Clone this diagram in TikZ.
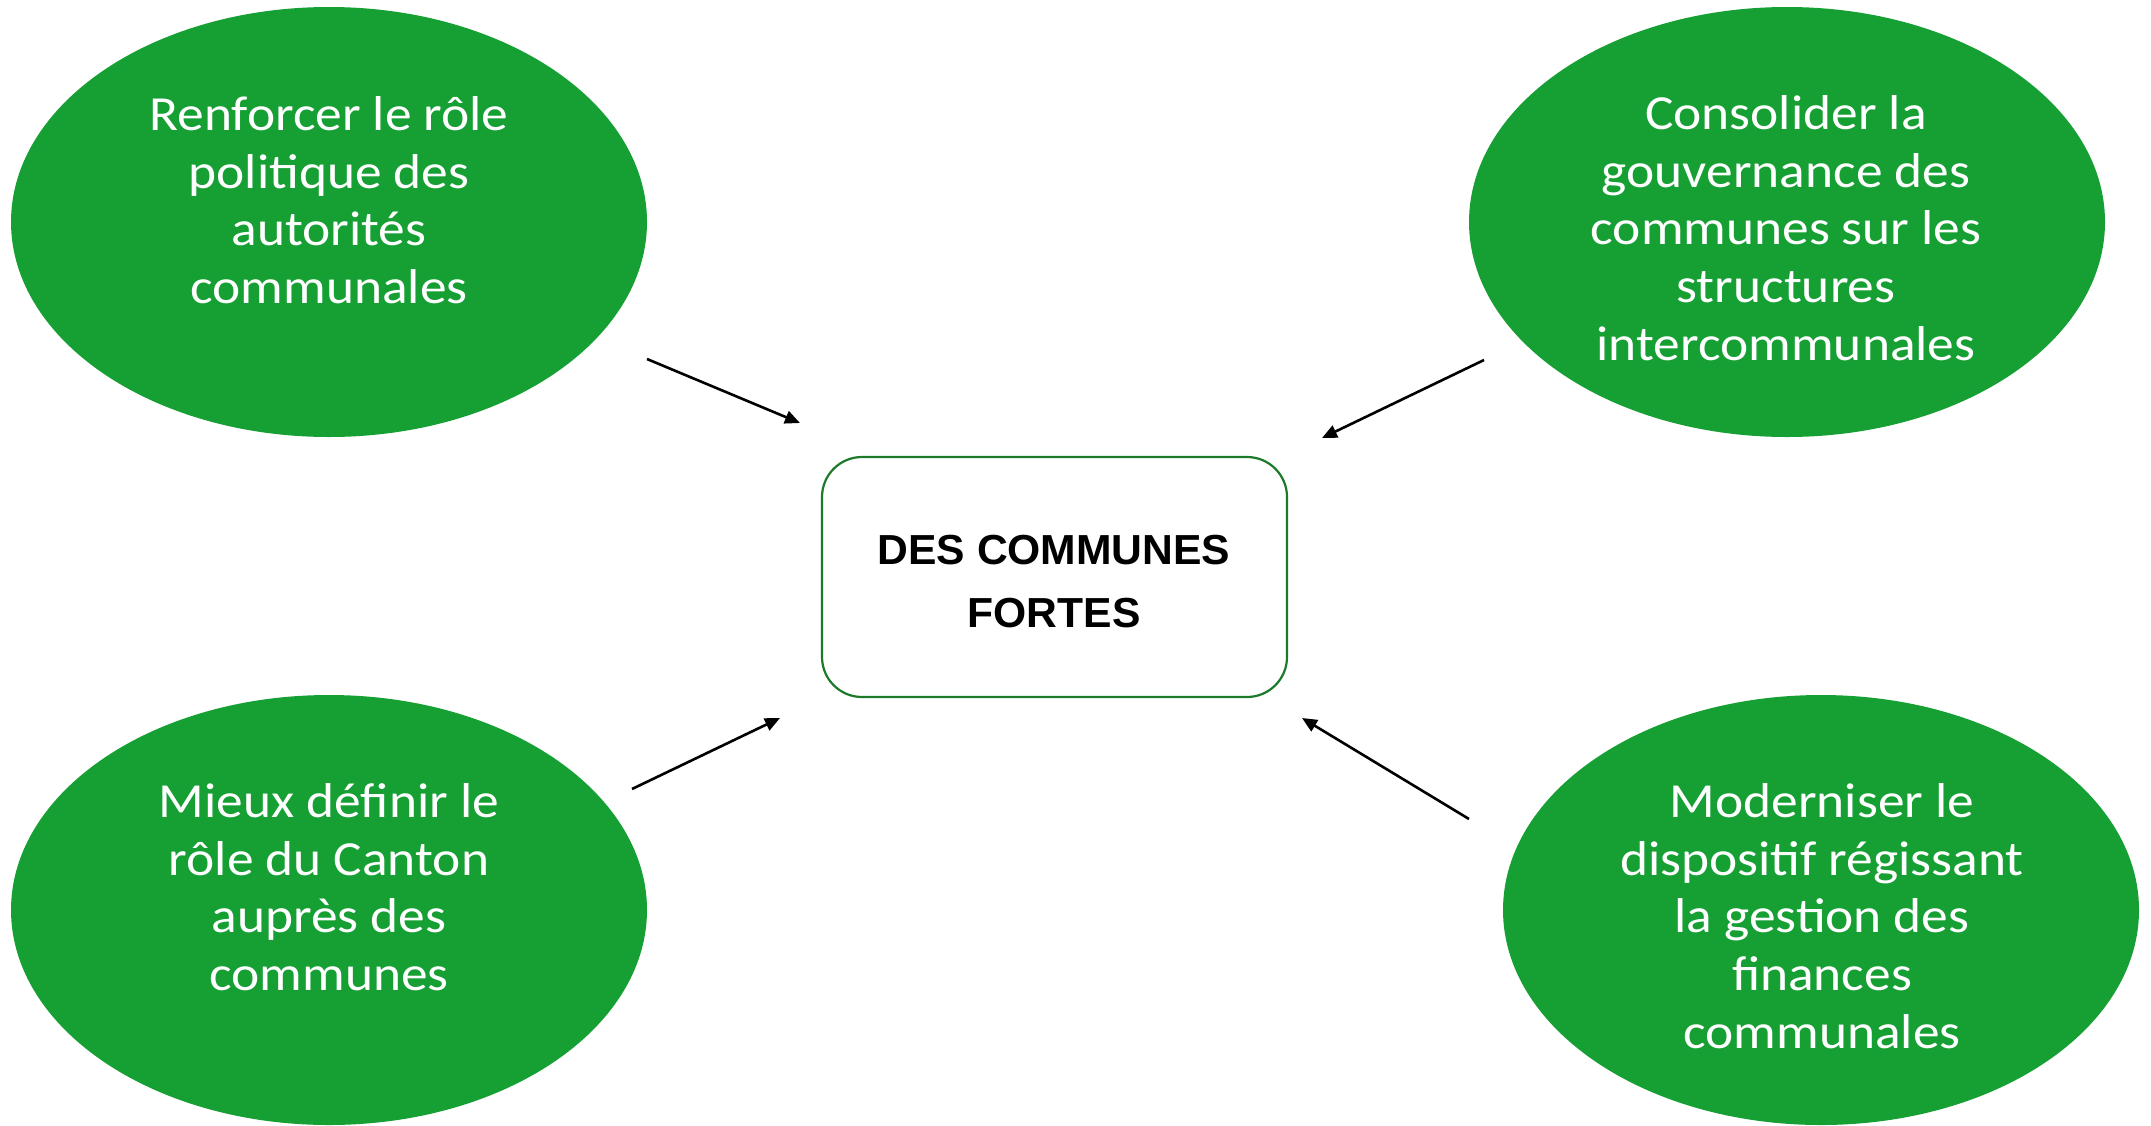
\documentclass[tikz,border=0pt]{standalone}
\usepackage{fontspec}
\setmainfont[FakeStretch=1.09]{Carlito}
\newfontfamily\arialfont[FakeStretch=1.015]{Liberation Sans}
\usetikzlibrary{shapes.geometric,arrows.meta}
\definecolor{ellgreen}{RGB}{22,160,52}
\definecolor{boxgreen}{RGB}{28,122,42}
\begin{document}
\begin{tikzpicture}[x=0.5pt,y=-0.5pt,
  goal/.style={ellipse,fill=ellgreen,draw=none,minimum width=318pt,minimum height=215pt,inner sep=0pt},
  goaltext/.style={text=white,align=center,font=\fontsize{24.5}{28.8}\selectfont},
  core/.style={draw=boxgreen,line width=1.1pt,rounded corners=20pt,fill=white,minimum width=232.5pt,minimum height=120pt,inner sep=0pt},
  coretext/.style={align=center,font=\arialfont\bfseries\fontsize{21}{31.5}\selectfont},
  link/.style={line width=1.3pt,-{Triangle[length=7.5pt,width=6.5pt]}}]
\useasboundingbox (0,0) rectangle (2151,1125);
\node[goal] (e1) at (329,222) {};
\node[goal] (e2) at (1787,222) {};
\node[goal] (e3) at (329,910) {};
\node[goal] (e4) at (1821,910) {};
\node[goaltext] (t1) at (329,200) {Renforcer le rôle\\politique des\\autorités\\communales};
\node[goaltext] (t2) at (1786,228) {Consolider la\\gouvernance des\\communes sur les\\structures\\intercommunales};
\node[goaltext] (t3) at (329,887) {Mieux définir le\\rôle du Canton\\auprès des\\communes};
\node[goaltext] (t4) at (1822,916) {Moderniser le\\dispositif régissant\\la gestion des\\finances\\communales};
\node[core] (c) at (1054.5,577) {};
\node[coretext] (ct) at (1054,582) {DES COMMUNES\\FORTES};
\coordinate (a1s) at (647,359); \coordinate (a1e) at (800,423);
\coordinate (a2s) at (1484,360); \coordinate (a2e) at (1322,438);
\coordinate (a3s) at (632,789); \coordinate (a3e) at (780,718);
\coordinate (a4s) at (1469,819); \coordinate (a4e) at (1302,718);
\draw[link] (a1s) -- (a1e);
\draw[link] (a2s) -- (a2e);
\draw[link] (a3s) -- (a3e);
\draw[link] (a4s) -- (a4e);
\end{tikzpicture}
\end{document}
